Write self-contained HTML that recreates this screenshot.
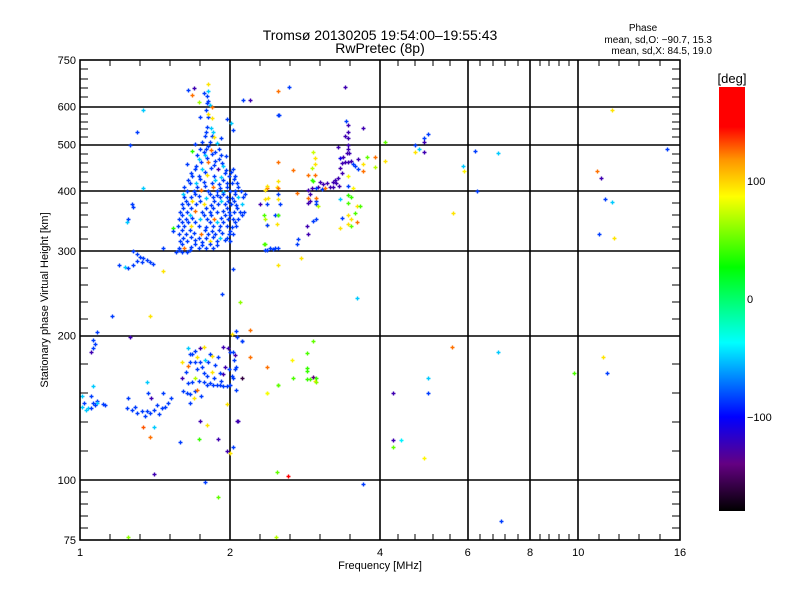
<!DOCTYPE html>
<html><head><meta charset="utf-8">
<style>
html,body{margin:0;padding:0;background:#fff;}
svg{display:block;font-family:"Liberation Sans",sans-serif;}
</style></head>
<body>
<svg id="chart" width="800" height="600" viewBox="0 0 800 600" xmlns="http://www.w3.org/2000/svg">
<defs>
<linearGradient id="cbar" x1="0" y1="1" x2="0" y2="0">
<stop offset="0" stop-color="#000000"/>
<stop offset="0.111" stop-color="#640082"/>
<stop offset="0.222" stop-color="#0000ff"/>
<stop offset="0.397" stop-color="#00ffff"/>
<stop offset="0.575" stop-color="#00ff00"/>
<stop offset="0.742" stop-color="#ffff00"/>
<stop offset="0.828" stop-color="#ff9600"/>
<stop offset="0.906" stop-color="#ff0000"/>
<stop offset="1" stop-color="#ff0000"/>
</linearGradient>
</defs>
<text x="380" y="40" font-size="14" text-anchor="middle">Tromsø 20130205 19:54:00–19:55:43</text>
<text x="380" y="53" font-size="14" text-anchor="middle">RwPretec (8p)</text>
<text x="643" y="31" font-size="10" text-anchor="middle">Phase</text>
<text x="712" y="43" font-size="10" text-anchor="end">mean, sd,O: −90.7, 15.3</text>
<text x="712" y="54" font-size="10" text-anchor="end">mean, sd,X:  84.5, 19.0</text>
<g id="grid"></g>
<g id="marks"></g>
<g id="axes"></g>
<text x="380" y="569" font-size="11" text-anchor="middle">Frequency [MHz]</text>
<text transform="translate(48,300) rotate(-90)" font-size="11" text-anchor="middle">Stationary phase Virtual Height [km]</text>
<rect x="719" y="87" width="26" height="424" fill="url(#cbar)"/>
<text x="732" y="83" font-size="13" text-anchor="middle">[deg]</text>
<g id="cbticks"></g>
</svg>
<script>
const xTickValues = [1, 2, 4, 6, 8, 10, 16];
const xTickLabels = ["1", "2", "4", "6", "8", "10", "16"];
const yTickValues = [75, 100, 200, 300, 400, 500, 600, 750];
const yTickLabels = ["75", "100", "200", "300", "400", "500", "600", "750"];
const xGridValues = [2, 4, 6, 8, 10];
const yGridValues = [100, 200, 300, 400, 500, 600];
const colorbarValues = [100, 0, -100];
const colorbarLabels = ["100", "0", "−100"];

// [frequency MHz, height km, phase deg]
const upperCluster = [
[1.77,640,-85],[1.80,610,-85],[1.82,605,-50],[1.79,590,-85],[1.81,570,-85],[1.84,568,95],
[1.80,545,-85],[1.83,542,-50],[1.78,520,-85],[1.84,520,-85],[1.86,518,95],
[1.76,505,-85],[1.82,505,-85],[1.88,503,-50],[1.74,490,-85],[1.79,490,-85],[1.83,488,125],[1.90,490,-85],
[1.72,475,-85],[1.78,475,-50],[1.84,477,-85],[1.92,475,-85],[1.96,473,-85],
[1.75,460,-85],[1.81,460,125],[1.87,462,-85],[1.93,458,-85],
[1.70,445,-85],[1.76,445,-50],[1.83,447,-85],[1.89,445,-125],[1.96,443,-85],[2.03,445,-85],
[1.68,430,-85],[1.73,430,-85],[1.80,432,95],[1.86,430,-85],[1.92,428,-50],[1.99,430,-85],[2.05,430,-85],
[1.66,415,-85],[1.71,415,-50],[1.77,417,-85],[1.84,415,-85],[1.90,413,-85],[1.97,415,-85],[2.02,415,-85],[2.07,416,-85],
[1.64,400,-85],[1.69,400,-85],[1.75,402,125],[1.81,400,-85],[1.88,400,-85],[1.94,398,-50],[2.00,400,-85],[2.05,401,-85],[2.10,400,-85],
[1.62,388,-85],[1.67,388,-85],[1.73,390,-85],[1.79,387,-50],[1.85,388,-85],[1.91,388,-85],[1.97,389,-85],[2.02,387,-85],[2.08,388,-50],[2.12,388,-85],
[1.60,375,-85],[1.65,375,-85],[1.71,376,-85],[1.77,375,95],[1.83,374,-85],[1.89,375,-85],[1.95,376,-85],[2.01,375,-85],[2.06,374,-85],[2.11,375,-50],
[1.59,362,-85],[1.64,362,-85],[1.70,363,125],[1.76,362,-85],[1.82,361,-85],[1.88,362,-85],[1.94,363,-85],[1.99,362,-85],[2.04,361,-85],[2.09,362,-85],[2.13,362,-85],
[1.58,350,-85],[1.63,350,-85],[1.68,351,-85],[1.74,349,-50],[1.80,350,-85],[1.86,350,125],[1.92,351,-85],[1.98,349,-85],[2.03,350,-85],[2.08,350,-85],
[1.57,338,-85],[1.62,338,-85],[1.67,339,95],[1.73,338,-85],[1.79,337,-85],[1.85,338,-85],[1.91,339,-85],[1.97,338,-85],[2.02,337,-85],[2.06,338,-85],
[1.58,326,-85],[1.63,326,-85],[1.69,327,-85],[1.75,325,125],[1.81,326,-85],[1.87,326,-85],[1.93,327,-85],[1.99,326,-85],[2.03,325,-85],
[1.59,315,-85],[1.64,315,-85],[1.70,316,-85],[1.76,314,-85],[1.82,315,95],[1.88,315,-85],[1.95,316,-85],[2.00,315,-85],
[1.58,305,-85],[1.62,305,125],[1.67,306,-85],[1.73,304,-85],[1.79,305,-85],[1.85,305,-85],
[1.56,298,-85],[1.60,298,-85],[1.64,299,-85],
[1.81,670,95],[1.69,655,-125],[1.65,650,-85],[1.81,645,-50],[1.68,635,125],[1.80,630,-85],[1.81,616,-85],[1.73,612,65],
[1.84,598,125],[1.81,580,95],[1.74,570,-85],[1.97,565,-85],[2.01,555,-50],[2.03,535,-85],[2.19,620,-125],[2.12,620,-85],
[1.64,455,-85],[1.68,484,35],[1.70,502,-85],[1.92,515,-85],[1.54,335,35],[1.54,330,-85],[1.47,272,95],[2.03,275,-85]
];
const upperFill = [
[1.79,532,-85],[1.85,530,-50],[1.81,497,-85],[1.77,482,-85],[1.87,483,-85],[1.73,467,-50],[1.80,468,-85],[1.90,466,-85],
[1.71,452,-85],[1.86,453,-85],[1.94,451,-50],[1.67,437,-85],[1.78,438,-85],[1.95,436,-85],[2.01,438,-85],
[1.65,422,-85],[1.74,423,-85],[1.87,421,-50],[1.94,421,-85],[2.04,423,-85],[1.62,407,-85],[1.72,408,-85],[1.78,409,-85],
[1.85,407,125],[1.91,406,-85],[1.97,408,-85],[2.08,408,-85],[1.61,394,-50],[1.70,395,-85],[1.82,394,-85],[1.88,393,-85],
[1.94,394,-85],[2.05,394,-85],[2.14,395,-85],[1.63,381,-85],[1.68,381,95],[1.74,382,-85],[1.86,381,-85],[1.92,382,-50],
[1.98,381,-85],[2.04,381,-85],[1.61,368,-85],[1.67,369,-85],[1.79,368,-85],[1.85,369,-85],[1.97,368,-85],[2.07,368,-85],
[1.60,356,-85],[1.66,356,-50],[1.77,356,-85],[1.83,357,-85],[1.95,356,-85],[2.00,357,-85],[2.11,356,-85],
[1.60,344,-85],[1.65,344,-85],[1.70,344,-85],[1.82,344,-85],[1.88,345,-50],[1.94,344,-85],[2.05,344,-85],
[1.60,332,-85],[1.66,332,-85],[1.78,332,-85],[1.84,331,-85],[1.90,332,-85],[2.00,331,-85],
[1.61,320,-85],[1.67,321,-85],[1.73,320,-85],[1.79,320,-85],[1.85,321,-85],[1.91,320,-50],[1.97,320,-85],
[1.60,310,-85],[1.70,310,-85],[1.76,309,-85],[1.82,310,-85],[1.88,309,-85],[1.58,301,-85],[1.66,302,-85]
];
const tailCluster = [
[1.28,300,-85],[1.30,296,-85],[1.32,292,-85],[1.34,290,-85],[1.36,288,-85],[1.38,285,-85],[1.40,282,-85],
[1.30,286,-85],[1.33,284,-85],[1.28,280,-85],[1.23,278,-50],[1.47,305,-85],[1.20,280,-85],[1.25,276,-85],
[1.27,376,-85],[1.28,370,-85],[1.25,350,-85],[1.24,345,-50],[1.30,530,-85],[1.34,590,-50],[1.26,500,-85],[1.34,405,-50]
];
const lowerLeftCluster = [
[1.08,203,-85],[1.06,196,-85],[1.07,192,-85],[1.06,188,-85],[1.05,185,-125],[1.06,157,-50],[1.05,150,-85],
[1.01,150,-50],[1.01,142,-50],[1.04,141,-50],[1.05,141,-85],[1.06,145,-85],[1.08,146,-85],[1.08,145,-50],
[1.11,144,-85],[1.12,143,-85],[1.26,199,-125],
[1.24,141,-85],[1.27,140,-85],[1.30,138,-85],[1.33,139,-85],[1.35,136,-85],[1.38,138,-85],[1.41,140,-85],
[1.44,137,-85],[1.46,141,-85],[1.48,142,-85],[1.50,145,-85],[1.52,148,-85],[1.37,152,-85],[1.36,160,-50],
[1.47,152,-85],[1.39,148,-125],[1.34,129,130],[1.38,123,125],[1.41,103,-125],[1.41,129,-50],[1.25,148,-85],
[1.02,145,-85],[1.03,140,-50],[1.07,143,-85],[1.29,142,-85],[1.36,139,-85],[1.43,143,-85]
];
const lowerMidCluster = [
[2.02,201,95],[2.06,204,-85],[2.07,199,-85],[2.11,195,-85],[1.94,189,-125],[1.98,188,-125],[2.00,185,-85],
[2.03,185,-85],[2.05,182,-125],[2.04,178,-85],[2.06,172,-85],[2.05,170,-85],[2.02,165,-85],[2.03,163,-85],
[2.00,158,-85],[1.97,157,-85],[1.94,157,-85],[1.91,158,-85],[1.88,158,-85],[1.85,158,-85],[1.82,159,-85],
[1.80,158,-85],[1.77,160,-85],[1.77,167,-85],[1.80,165,-85],[1.84,168,95],[1.91,167,-85],[1.94,166,-125],
[1.95,172,-125],[1.89,180,-85],[1.84,181,95],[1.82,183,-85],[1.81,176,-85],[1.74,176,-85],[1.70,176,-85],
[1.66,176,-85],[1.65,173,125],[1.68,183,-85],[1.70,186,-85],[1.66,183,-85],[1.65,188,-50],[1.74,188,-125],
[1.77,189,95],[1.72,180,95],[1.78,178,-50],[1.60,176,95],[1.70,163,70],[1.73,161,-85],[1.68,160,-85],
[1.65,159,-85],[1.61,153,-85],[1.64,152,-85],[1.66,151,-85],[1.70,153,-85],[1.72,154,125],[1.66,145,-85],
[1.69,148,95],[1.60,163,-125],[1.97,144,95],[2.06,154,-85],[2.19,205,125],[2.11,163,-160],[2.08,133,-125],
[2.37,172,125],[2.37,152,80],[2.50,158,40],[1.80,130,95],[1.73,122,40],[1.89,122,-125],[1.97,115,-125],
[2.00,114,95],[2.03,117,-85],[2.07,133,-125],[1.59,120,-85],[1.74,133,-125],[1.78,99,-85],[1.89,92,50],
[1.25,76,60],[2.48,104,50],[2.47,76,70],[2.19,180,125],[2.11,195,-85],
[2.85,184,45],[2.66,178,90],[2.85,171,40],[2.86,169,40],[2.67,163,45],[2.86,162,40],[2.93,164,-140],
[2.96,161,95],[2.97,163,40],[2.90,162,45],[2.98,160,60],[2.93,195,50],[2.50,158,50],[2.37,152,85],
[1.72,170,-85],[1.76,172,-85],[1.86,163,-85],[1.92,161,-85],[1.99,170,-85],[1.87,174,-85],[1.63,168,-85],[1.75,150,-85]
];
const midUpperCluster = [
[2.50,645,125],[2.50,575,-85],[2.50,460,125],[2.50,420,95],[2.37,405,125],[2.35,385,95],[2.30,375,-125],
[2.35,350,70],[2.37,340,95],[2.35,310,45],[2.44,303,-85],[2.37,302,-85],[2.50,280,95],
[3.40,660,-125],[2.63,660,-85],[2.51,575,-85],[3.42,560,-85],[3.45,550,-125],[3.45,530,-125],[3.45,515,-125],
[3.45,500,-125],[3.45,490,-125],[3.70,540,-125],[3.40,520,-125],[3.30,495,-125],[3.47,480,-125],
[3.43,480,-125],[3.37,470,-125],[3.32,468,-105],[3.35,458,-125],[3.40,460,-125],[3.45,460,-125],[3.50,463,-125],
[3.53,455,-85],[3.57,450,-85],[3.62,466,-125],[3.32,447,-125],[3.35,436,-125],[3.30,425,-125],[3.25,421,-125],
[3.22,418,-125],[3.27,415,-125],[3.31,410,-125],[3.22,408,-125],[3.13,415,-125],[3.08,413,-125],[3.03,418,-125],
[3.00,408,-125],[2.92,406,-125],[2.87,402,-125],[2.98,406,-85],[3.06,403,-85],[3.10,406,125],[3.17,408,-125],
[2.90,395,-125],[2.87,378,-125],[2.90,382,-125],[2.97,382,-85],[2.98,375,-85],[2.85,338,-125],[2.87,325,-125],
[2.93,346,-85],[2.98,350,-85],[2.72,310,-85],[2.74,318,-85],[2.37,340,-85],[2.35,302,-85],[2.41,305,-85],
[2.46,305,-85],[2.50,305,-85],[2.46,357,-85],[2.50,357,-85],[2.52,376,-85],[2.50,395,-85],[2.37,375,-85],
[2.68,442,125],[2.96,468,95],[2.93,482,75],[2.96,455,95],[2.87,433,125],[2.96,432,125],[2.92,422,40],
[2.92,447,70],[2.87,387,125],[2.97,387,125],[3.00,372,70],[2.72,397,125],[2.93,420,40],[2.37,410,95],
[2.35,402,95],[2.38,387,95],[2.48,408,95],[2.50,406,125],[2.50,385,95],[2.34,356,45],[2.50,356,45],
[2.48,341,95],[2.34,310,45],
[3.45,393,40],[3.50,388,40],[3.45,377,45],[3.60,372,95],[3.65,372,45],[3.57,360,45],[3.45,356,95],
[3.50,350,95],[3.45,341,95],[3.50,339,50],[3.60,345,125],[3.32,335,95],[3.32,385,-50],[3.35,352,-85],
[3.45,409,-85],[3.53,405,90],[3.70,455,95],[3.77,470,50],[3.90,472,125],[3.90,448,70],[3.70,440,125],
[3.45,430,85],[3.62,445,-85],[4.10,505,50],[4.10,462,95],[4.70,500,-85],[4.90,515,-85],[4.80,490,-50],
[4.90,505,-125],[5.00,525,-85],[4.70,482,95],[4.90,482,-125]
];
const sparsePoints = [
[5.87,450,-50],[5.9,440,90],[6.2,485,-85],[6.9,480,-50],[6.25,400,-85],[5.6,360,95],[10.9,440,125],
[11.1,425,-125],[11.7,380,-50],[11.8,320,95],[11.0,325,-85],[11.7,590,95],[15.1,490,-85],[11.3,385,-85],
[3.6,239,-50],[5.58,189,125],[6.9,185,-50],[5.0,163,-50],[4.25,152,-125],[5.0,152,-85],[4.25,121,-125],
[4.4,121,-40],[4.25,117,50],[4.9,111,90],[3.7,98,-85],[7.0,82,-85],[9.8,167,45],[11.4,167,-85],[11.2,180,95],
[2.62,102,150],[1.93,244,-85],[2.09,235,60],[2.78,290,95],[1.38,220,95],[1.16,220,-85]
];

const X0 = 80, X1 = 680, Y0 = 540, Y1 = 60;
const xScale = f => X0 + (X1 - X0) * Math.log2(f) / Math.log2(16);
const yScale = h => Y0 - (Y0 - Y1) * Math.log10(h / 75) / Math.log10(10);
const CB_TOP = 87, CB_BOT = 511;
const cbScale = p => CB_BOT - (CB_BOT - CB_TOP) * (p + 180) / 360;

const stops = [[-180,0,0,0],[-140,100,0,130],[-100,0,0,255],[-37,0,255,255],[27,0,255,0],[87,255,255,0],[118,255,150,0],[146,255,0,0],[180,255,0,0]];
function phaseColor(p){
  for(let i=0;i<stops.length-1;i++){
    const a=stops[i], b=stops[i+1];
    if(p<=b[0]){
      const t=Math.max(0,(p-a[0])/(b[0]-a[0]));
      const c=[1,2,3].map(k=>Math.round(a[k]+(b[k]-a[k])*t));
      return `rgb(${c[0]},${c[1]},${c[2]})`;
    }
  }
  return 'rgb(255,0,0)';
}
const NS = 'http://www.w3.org/2000/svg';
function mk(tag, attrs, parent){
  const el = document.createElementNS(NS, tag);
  for (const k in attrs) el.setAttribute(k, attrs[k]);
  parent.appendChild(el);
  return el;
}
const grid = document.getElementById('grid');
const axes = document.getElementById('axes');
const marks = document.getElementById('marks');

xGridValues.forEach(v => {
  const x = Math.round(xScale(v));
  const l = mk('line', {x1:x, x2:x, y1:Y1, y2:Y0, stroke:'#000', 'stroke-width':1.6}, grid);
  
  
});
yGridValues.forEach(v => {
  const y = Math.round(yScale(v));
  const l = mk('line', {x1:X0, x2:X1, y1:y, y2:y, stroke:'#000', 'stroke-width':1.6}, grid);
  
  
});

const frame = mk('rect', {x:X0, y:Y1, width:X1-X0, height:Y0-Y1, fill:'none', stroke:'#000', 'stroke-width':1.6}, axes);



for (let i=0;i<xTickValues.length-1;i++){
  const a = xScale(xTickValues[i]), b = xScale(xTickValues[i+1]);
  for (let k=0;k<=5;k++){
    const x = Math.round(a + (b-a)*k/5);
    const len = 6;
    const t1 = mk('line', {x1:x, x2:x, y1:Y0, y2:Y0-len, stroke:'#000', 'stroke-width':1}, axes);
    
    
    const t2 = mk('line', {x1:x, x2:x, y1:Y1, y2:Y1+len, stroke:'#000', 'stroke-width':1}, axes);
    
    
  }
}
for (let i=0;i<yTickValues.length-1;i++){
  const a = yScale(yTickValues[i]), b = yScale(yTickValues[i+1]);
  for (let k=0;k<=5;k++){
    const y = Math.round(a + (b-a)*k/5);
    const t1 = mk('line', {x1:X0, x2:X0+8, y1:y, y2:y, stroke:'#000', 'stroke-width':1}, axes);
    
    
    const t2 = mk('line', {x1:X1-8, x2:X1, y1:y, y2:y, stroke:'#000', 'stroke-width':1}, axes);
    
    
  }
}
xTickValues.forEach((v,i) => {
  const t = mk('text', {x:xScale(v), y:556, 'font-size':11, 'text-anchor':'middle'}, axes);
  t.textContent = xTickLabels[i];
  
  
});
yTickValues.forEach((v,i) => {
  const t = mk('text', {x:76, y:yScale(v)+4, 'font-size':11, 'text-anchor':'end'}, axes);
  t.textContent = yTickLabels[i];
  
  
});

const cbt = document.getElementById('cbticks');
colorbarValues.forEach((v,i) => {
  const y = cbScale(v);
  const t = mk('text', {x:747, y:y+4, 'font-size':11}, cbt);
  t.textContent = colorbarLabels[i];
  
  
});

function drawPoints(arr){
  arr.forEach(p => {
    const x = Math.round(xScale(p[0])) + 0.5;
    const y = Math.round(yScale(p[1])) + 0.5;
    const d = `M${x-2} ${y}H${x+2}M${x} ${y-2}V${y+2}`;
    const m = mk('path', {d:d, stroke:phaseColor(p[2]), 'stroke-width':1.4, fill:'none'}, marks);
    
    
  });
}
[upperCluster, upperFill, tailCluster, lowerLeftCluster, lowerMidCluster, midUpperCluster, sparsePoints].forEach(drawPoints);
</script>
</body></html>
